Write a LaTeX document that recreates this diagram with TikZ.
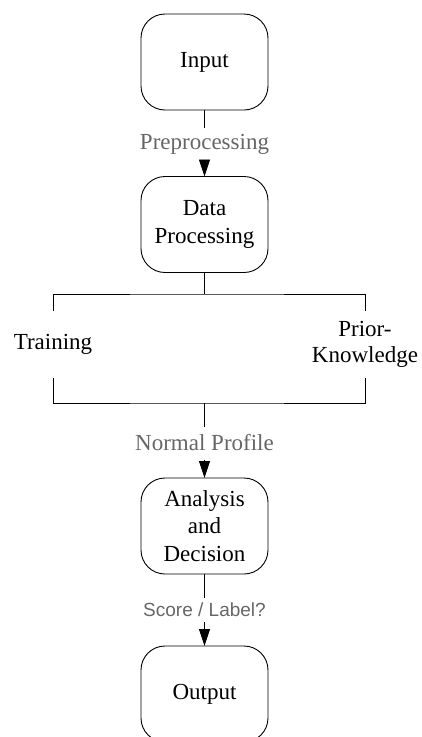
\documentclass[tikz,border=0pt]{standalone}
\usepackage{fontspec}
\setmainfont{Liberation Serif}
\setsansfont{Liberation Sans}
\usetikzlibrary{arrows.meta}
\definecolor{labelgray}{RGB}{102,102,102}
\begin{document}
\begin{tikzpicture}[x=1pt,y=-1pt,
  stage/.style={draw, line width=0.9pt, rounded corners=24pt, minimum width=127pt,
    minimum height=96pt, align=center, inner sep=0pt, outer sep=0pt,
    font=\fontsize{23}{27.5}\selectfont},
  branch/.style={align=center, minimum height=67pt, inner sep=0pt, outer sep=0pt,
    font=\fontsize{23}{26}\selectfont},
  flowlabel/.style={text=labelgray, inner sep=0pt, outer sep=0pt},
  conn/.style={line width=0.8pt},
  arr/.style={conn, -{Triangle[width=11pt,length=17pt]}}]
  \useasboundingbox (0,0) rectangle (421,737);

  % process stages
  \node[stage] (in)  at (204.5,62)    {Input};
  \node[stage] (dp)  at (204.5,224.5) {Data\\Processing};
  \node[stage] (ad)  at (204.5,526)   {Analysis\\and\\Decision};
  \node[stage] (out) at (204.5,694)   {Output};

  % the two branches
  \node[branch] (tr) at (53,344.5)  {Training};
  \node[branch] (pk) at (365,344.5) {Prior-\\Knowledge};

  % connector labels
  \node[flowlabel, minimum height=32pt, font=\fontsize{23}{27}\selectfont] (pre) at (204.5,144) {Preprocessing};
  \node[flowlabel, minimum height=33pt, font=\fontsize{23}{27}\selectfont] (np)  at (204.5,443) {Normal Profile};
  \node[flowlabel, minimum height=24pt, font=\sffamily\fontsize{19}{22}\selectfont] (sl) at (204.5,610) {Score / Label?};

  \coordinate (top) at (204.5,294);
  \coordinate (bot) at (204.5,403);

  % connectors
  \draw[conn] (in) -- (pre);
  \draw[arr] (pre) -- (dp);
  \draw[conn] (dp) -- (top);
  \draw[conn] (tr.north) |- (top) -| (pk.north);
  \draw[conn] (tr.south) |- (bot) -| (pk.south);
  \draw[conn] (bot) -- (np);
  \draw[arr] (np) -- (ad);
  \draw[conn] (ad) -- (sl);
  \draw[arr] (sl) -- (out);
\end{tikzpicture}
\end{document}
